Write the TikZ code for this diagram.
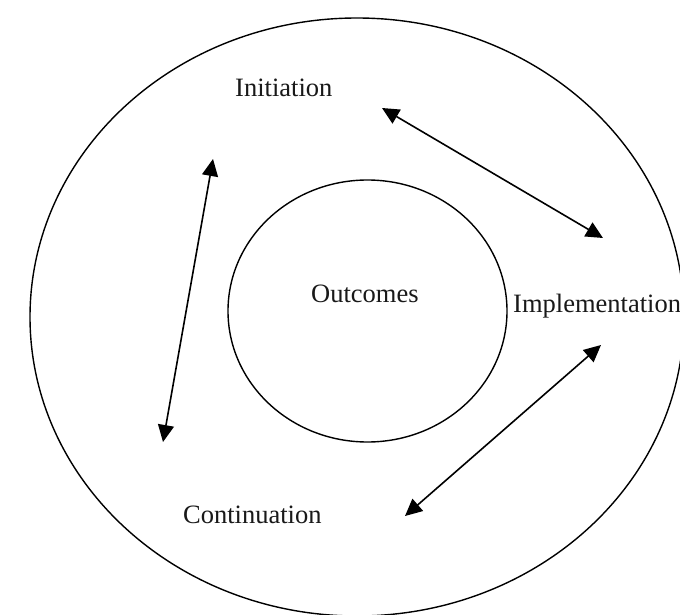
\documentclass[tikz,border=0pt]{standalone}
\usepackage{fontspec}
\setmainfont{Liberation Serif}
\usetikzlibrary{arrows.meta}
\begin{document}
\begin{tikzpicture}[x=1pt,y=-1pt,
  ring/.style={draw=black,line width=1.4pt},
  lbl/.style={inner sep=0pt,anchor=base west,font=\fontsize{26.5}{30}\selectfont,text=black!90},
  link/.style={line width=1.6pt,{Triangle[length=17pt,width=16pt]}-{Triangle[length=17pt,width=16pt]}}]
\useasboundingbox (0,0) rectangle (680,615);
\fill[white] (0,0) rectangle (680,615);
\draw[ring] (357,317) ellipse [x radius=327pt, y radius=299pt];
\draw[ring] (367.5,311) ellipse [x radius=139.5pt, y radius=131pt];
\node[lbl] (init) at (235,97) {Initiation};
\node[lbl] (out) at (311,302) {Outcomes};
\node[lbl] (impl) at (513,312) {Implementation};
\node[lbl] (cont) at (183,523) {Continuation};
\coordinate (a1) at (382,108);
\coordinate (a2) at (603,238);
\coordinate (b1) at (601,345);
\coordinate (b2) at (405,516);
\coordinate (c1) at (213,159);
\coordinate (c2) at (163,442);
\draw[link] (a1) -- (a2);
\draw[link] (b1) -- (b2);
\draw[link] (c1) -- (c2);
\end{tikzpicture}
\end{document}
